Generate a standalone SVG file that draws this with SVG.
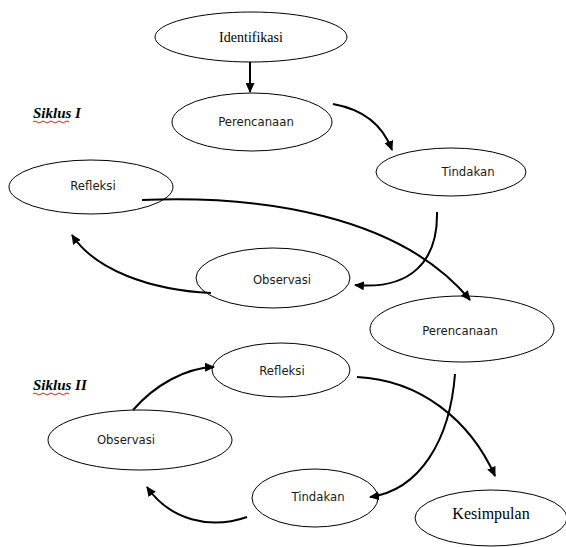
<svg xmlns="http://www.w3.org/2000/svg" width="566" height="547" viewBox="0 0 566 547">
<style>
.node ellipse{fill:#fff;stroke:#000;stroke-width:1}
.sans{font-family:"DejaVu Sans Condensed","DejaVu Sans","Liberation Sans",sans-serif;font-stretch:condensed;font-size:13px;fill:#1a1a1a;text-anchor:middle;dominant-baseline:central}
.serif{font-family:"Liberation Serif","Times New Roman",serif;fill:#000;text-anchor:middle;dominant-baseline:central}
.cyc{font-family:"Liberation Serif","Times New Roman",serif;font-size:15px;font-weight:bold;font-style:italic;fill:#000}
.conn path,.conn line{fill:none;stroke:#000;stroke-width:2;marker-end:url(#ah)}
.sq{fill:none;stroke:#d22;stroke-width:1}
</style>
<defs>
<marker id="ah" markerUnits="userSpaceOnUse" markerWidth="10" markerHeight="9" refX="9" refY="4.5" orient="auto">
<path d="M0,0 L10,4.5 L0,9 z" fill="#000"/>
</marker>
</defs>
<rect width="566" height="547" fill="#fff"/>
<text class="cyc" x="33" y="118">Siklus I</text>
<path class="sq" d="M33,122 q2,-2 4,0 t4,0 t4,0 t4,0 t4,0 t4,0 t4,0 t4,0 t4,0"/>
<text class="cyc" x="33" y="390">Siklus II</text>
<path class="sq" d="M33,394 q2,-2 4,0 t4,0 t4,0 t4,0 t4,0 t4,0 t4,0 t4,0 t4,0"/>
<g id="identifikasi" class="node"><ellipse cx="251" cy="37" rx="96" ry="25"/><text class="serif" x="251" y="37" font-size="14">Identifikasi</text></g>
<g id="perencanaan1" class="node"><ellipse cx="252" cy="122" rx="80" ry="29"/><text class="sans" x="256" y="121">Perencanaan</text></g>
<g id="tindakan1" class="node"><ellipse cx="451" cy="172" rx="75" ry="24"/><text class="sans" x="468" y="171">Tindakan</text></g>
<g id="refleksi1" class="node"><ellipse cx="91" cy="187" rx="82" ry="27"/><text class="sans" x="93" y="185">Refleksi</text></g>
<g id="observasi1" class="node"><ellipse cx="273" cy="278" rx="77" ry="30"/><text class="sans" x="282" y="279">Observasi</text></g>
<g id="perencanaan2" class="node"><ellipse cx="462" cy="329" rx="92" ry="33"/><text class="sans" x="460" y="330">Perencanaan</text></g>
<g id="refleksi2" class="node"><ellipse cx="281" cy="370" rx="69" ry="27"/><text class="sans" x="282" y="370">Refleksi</text></g>
<g id="observasi2" class="node"><ellipse cx="140" cy="440" rx="92" ry="30"/><text class="sans" x="126" y="439">Observasi</text></g>
<g id="tindakan2" class="node"><ellipse cx="315" cy="498" rx="63" ry="29"/><text class="sans" x="318" y="496">Tindakan</text></g>
<g id="kesimpulan" class="node"><ellipse cx="491" cy="518" rx="76" ry="28"/><text class="serif" x="491" y="513" font-size="16">Kesimpulan</text></g>
<g id="connectors" class="conn">
<line x1="250" y1="62" x2="250" y2="92"/>
<path d="M333,104 Q378,112 392,150"/>
<path d="M142,200 C260,195 400,215 470,300"/>
<path d="M437,212 C438,262 410,290 355,285"/>
<path d="M211,293 C150,290 95,270 72,235"/>
<path d="M133,410 C155,385 185,368 214,367"/>
<path d="M357,377 C420,380 470,420 495,476"/>
<path d="M455,374 C450,440 420,490 370,497"/>
<path d="M247,517 C210,530 170,520 147,487"/>
</g>
</svg>
